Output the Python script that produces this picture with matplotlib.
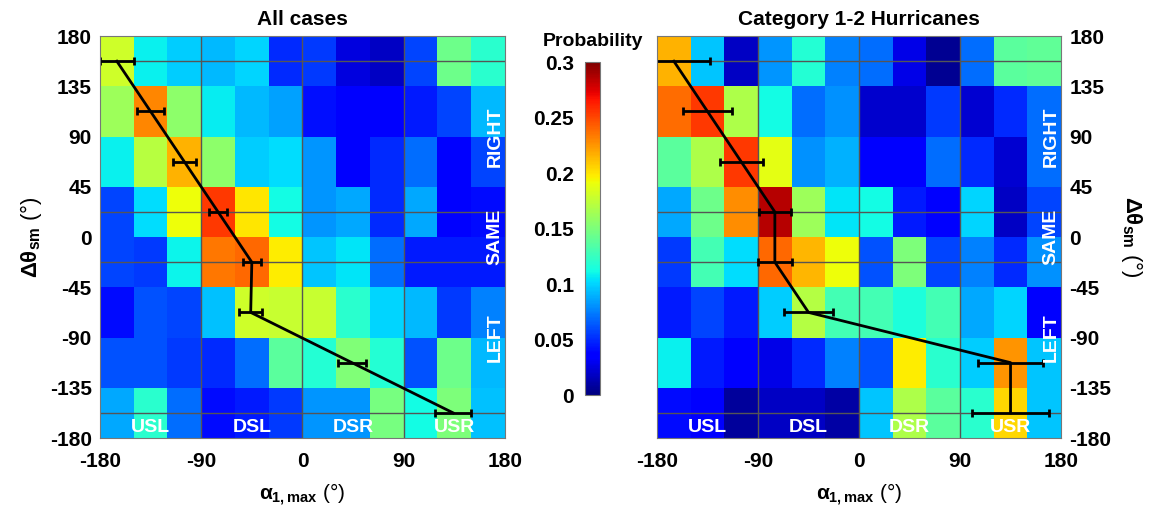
import numpy as np
import matplotlib
matplotlib.use("Agg")
import matplotlib.pyplot as plt

plt.rcParams['font.family'] = ['Liberation Sans', 'DejaVu Sans']
plt.rcParams['font.weight'] = 'bold'
plt.rcParams['axes.unicode_minus'] = False
plt.rcParams['mathtext.fontset'] = 'custom'
plt.rcParams['mathtext.rm'] = 'Liberation Sans:bold'
plt.rcParams['mathtext.it'] = 'Liberation Sans:bold'
plt.rcParams['mathtext.bf'] = 'Liberation Sans:bold'

# bin edges
alpha_edges = list(range(-180, 181, 30))
theta_edges = list(range(-180, 181, 45))

# probabilities, rows from top (135..180) to bottom (-180..-135)
prob_all = [
    [0.180, 0.108, 0.098, 0.092, 0.100, 0.050, 0.054, 0.025, 0.018, 0.058, 0.145, 0.120],
    [0.162, 0.230, 0.156, 0.107, 0.092, 0.085, 0.042, 0.033, 0.033, 0.045, 0.058, 0.092],
    [0.108, 0.172, 0.216, 0.156, 0.098, 0.103, 0.082, 0.033, 0.050, 0.070, 0.036, 0.058],
    [0.058, 0.103, 0.192, 0.255, 0.200, 0.112, 0.082, 0.087, 0.050, 0.087, 0.036, 0.040],
    [0.058, 0.054, 0.110, 0.235, 0.240, 0.198, 0.096, 0.105, 0.070, 0.045, 0.045, 0.045],
    [0.040, 0.062, 0.058, 0.094, 0.180, 0.178, 0.178, 0.120, 0.100, 0.092, 0.054, 0.076],
    [0.062, 0.062, 0.054, 0.050, 0.070, 0.138, 0.118, 0.152, 0.118, 0.062, 0.145, 0.092],
    [0.087, 0.120, 0.070, 0.040, 0.045, 0.054, 0.082, 0.082, 0.148, 0.112, 0.150, 0.094],
]
prob_cat12 = [
    [0.216, 0.096, 0.018, 0.082, 0.118, 0.076, 0.070, 0.027, 0.005, 0.070, 0.138, 0.140],
    [0.238, 0.255, 0.168, 0.112, 0.070, 0.080, 0.020, 0.020, 0.054, 0.022, 0.050, 0.070],
    [0.138, 0.168, 0.255, 0.188, 0.080, 0.090, 0.036, 0.033, 0.070, 0.050, 0.022, 0.070],
    [0.087, 0.145, 0.228, 0.285, 0.162, 0.105, 0.112, 0.045, 0.036, 0.100, 0.018, 0.058],
    [0.054, 0.130, 0.103, 0.240, 0.215, 0.192, 0.062, 0.150, 0.058, 0.076, 0.050, 0.080],
    [0.045, 0.058, 0.045, 0.098, 0.170, 0.130, 0.130, 0.115, 0.130, 0.087, 0.100, 0.036],
    [0.108, 0.045, 0.033, 0.028, 0.050, 0.076, 0.062, 0.198, 0.120, 0.098, 0.225, 0.096],
    [0.040, 0.035, 0.008, 0.018, 0.018, 0.010, 0.096, 0.168, 0.138, 0.120, 0.205, 0.096],
]

# mean alpha per theta band with error
theta_mid = [157.5, 112.5, 67.5, 22.5, -22.5, -67.5, -112.5, -157.5]
alpha_mean_all = [-165, -135, -105, -75, -45, -46, 44, 134]
alpha_err_all = [15, 12, 10, 8, 8, 10, 12.5, 16]
alpha_mean_cat12 = [-165, -135, -105, -75, -75, -45, 135, 135]
alpha_err_cat12 = [32, 21.5, 19, 14, 15, 22, 29, 34]

quad_names = ['USL', 'DSL', 'DSR', 'USR']
quad_x = [-135, -45, 45, 135]
side_names = ['RIGHT', 'SAME', 'LEFT']
side_y = [90, 0, -90]

fig = plt.figure(figsize=(11.61, 5.12), dpi=100)
ax1 = fig.add_axes([0.0861, 0.1445, 0.3488, 0.785])
ax2 = fig.add_axes([0.5659, 0.1445, 0.3480, 0.785])
cax = fig.add_axes([0.504, 0.2285, 0.0129, 0.65])


def draw(ax, prob, xm, xe, title, right=False):
    z = np.array(prob)[::-1]
    mesh = ax.pcolormesh(alpha_edges, theta_edges, z, cmap='jet', vmin=0, vmax=0.3)
    for gx in [-90, 0, 90]:
        ax.axvline(gx, color='#555555', lw=1)
    for gy in [157.5, 22.5, -22.5, -157.5]:
        ax.axhline(gy, color='#555555', lw=1)
    ax.errorbar(xm, theta_mid, xerr=xe, color='black', lw=2, capsize=3,
                capthick=2, elinewidth=2, clip_on=True)
    for name, x in zip(quad_names, quad_x):
        ax.text(x, -171, name, color='white', fontsize=14, ha='center', va='center',
                fontweight='bold')
    for name, y in zip(side_names, side_y):
        ax.text(171, y, name, color='white', fontsize=14, ha='center', va='center',
                rotation=90, fontweight='bold')
    ax.set_xlim(-180, 180)
    ax.set_ylim(-180, 180)
    ax.set_xticks([-180, -90, 0, 90, 180])
    ax.set_yticks(range(-180, 181, 45))
    ax.tick_params(labelsize=15, length=0)
    ax.tick_params(axis='x', pad=10)
    ax.tick_params(axis='y', pad=6)
    for s in ax.spines.values():
        s.set_color('#777777')
    ax.set_title(title, fontsize=15, fontweight='bold', pad=8)
    ax.set_xlabel(r'$\alpha_{1,max}$ (°)', fontsize=15, labelpad=8)
    if right:
        ax.yaxis.tick_right()
        ax.yaxis.set_label_position('right')
        ax.set_ylabel(r'$\Delta\theta_{sm}$ (°)', fontsize=16, rotation=-90, labelpad=24)
    else:
        ax.set_ylabel(r'$\Delta\theta_{sm}$ (°)', fontsize=16, labelpad=4)
    return mesh


m = draw(ax1, prob_all, alpha_mean_all, alpha_err_all, 'All cases')
draw(ax2, prob_cat12, alpha_mean_cat12, alpha_err_cat12, 'Category 1-2 Hurricanes', right=True)

cb = fig.colorbar(m, cax=cax)
cb.set_ticks([0, 0.05, 0.1, 0.15, 0.2, 0.25, 0.3])
cb.set_ticklabels(['0', '0.05', '0.1', '0.15', '0.2', '0.25', '0.3'])
cax.yaxis.set_ticks_position('left')
cax.tick_params(labelsize=15, length=0, pad=8)
cb.outline.set_edgecolor('#777777')
cax.set_title('Probability', fontsize=14, fontweight='bold', pad=12)

fig.savefig('out.png', dpi=100)
